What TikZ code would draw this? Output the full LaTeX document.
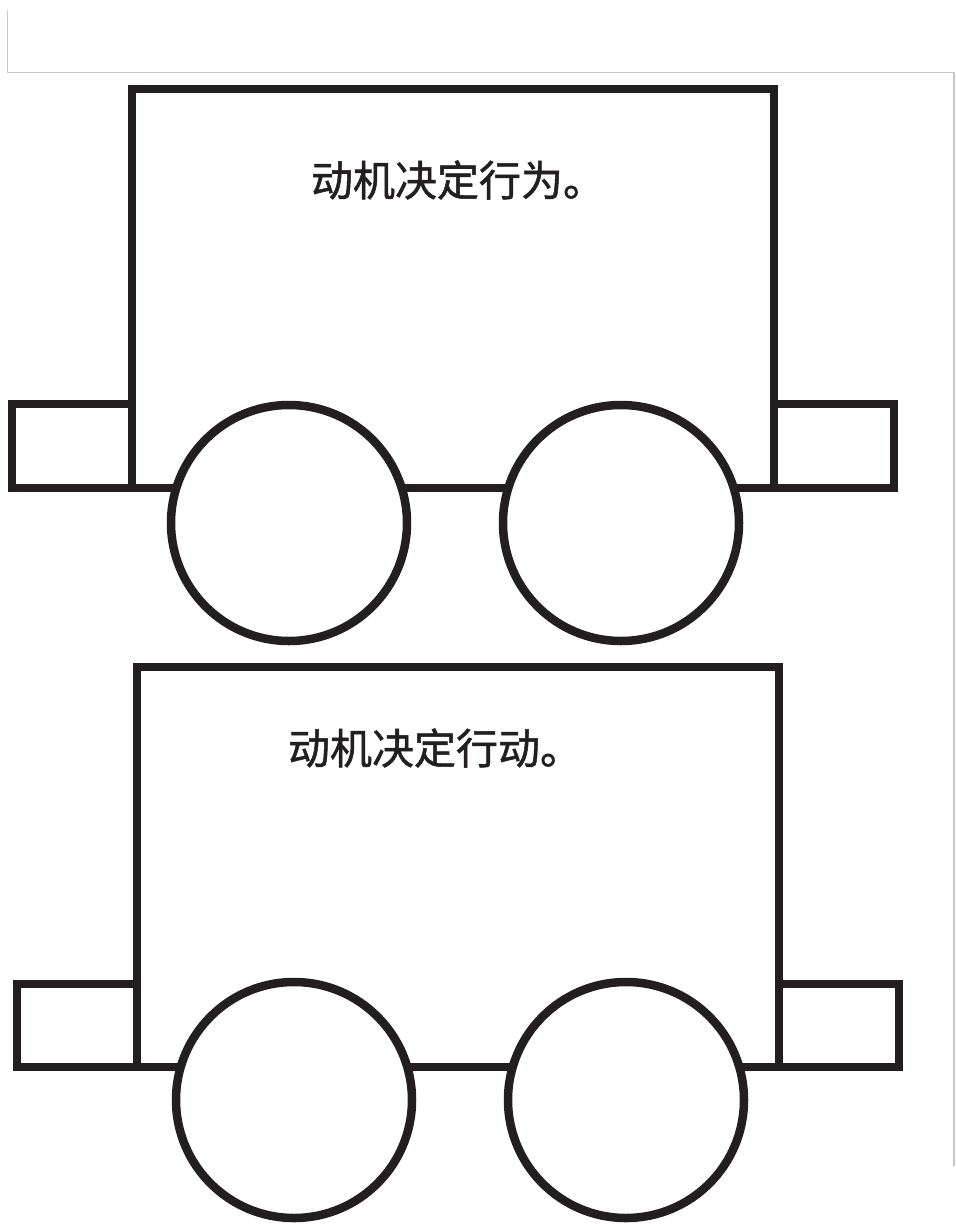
\documentclass[tikz,border=0pt]{standalone}
\usepackage{fontspec}
\newfontfamily\cjk[FakeBold=1.2]{Noto Sans CJK SC}
\definecolor{ink}{HTML}{231F20}
\definecolor{frame}{HTML}{C8C8C8}
\begin{document}
\begin{tikzpicture}[x=1pt,y=-1pt,
  part/.style={draw=ink,line width=8pt,fill=white},
  wheel/.style={draw=ink,line width=8.5pt,fill=white,circle,minimum size=236pt,inner sep=0pt},
  axle/.style={draw=ink,line width=8pt},
  caption/.style={font=\cjk\fontsize{42}{42}\selectfont,text=ink,inner sep=0pt,anchor=center},
  border/.style={draw=frame,line width=1.6pt}]
\useasboundingbox (0,0) rectangle (956,1224);
\fill[white] (0,0) rectangle (956,1224);
% frame
\coordinate (f1) at (7.5,10);
\coordinate (f2) at (7.5,72.5);
\coordinate (f3) at (954,72.5);
\coordinate (f4) at (954,1166);
\draw[border] (f1) -- (f2) -- (f3) -- (f4);
% train 1
\coordinate (a1l) at (12,488);
\coordinate (a1r) at (894,488);
\draw[axle] (a1l) -- (a1r);
\draw[part] (132,89) rectangle (774,488);
\draw[part] (12,404) rectangle (132,488);
\draw[part] (774,404) rectangle (894,488);
\node[wheel] (w11) at (289,523) {};
\node[wheel] (w12) at (621,523) {};
\node[caption] (t1) at (458,180) {动机决定行为。};
% train 2
\coordinate (a2l) at (17,1067);
\coordinate (a2r) at (899,1067);
\draw[axle] (a2l) -- (a2r);
\draw[part] (137,667) rectangle (779,1067);
\draw[part] (17,984) rectangle (137,1067);
\draw[part] (779,984) rectangle (899,1067);
\node[wheel] (w21) at (294,1100) {};
\node[wheel] (w22) at (626,1100) {};
\node[caption] (t2) at (435,748) {动机决定行动。};
\end{tikzpicture}
\end{document}
